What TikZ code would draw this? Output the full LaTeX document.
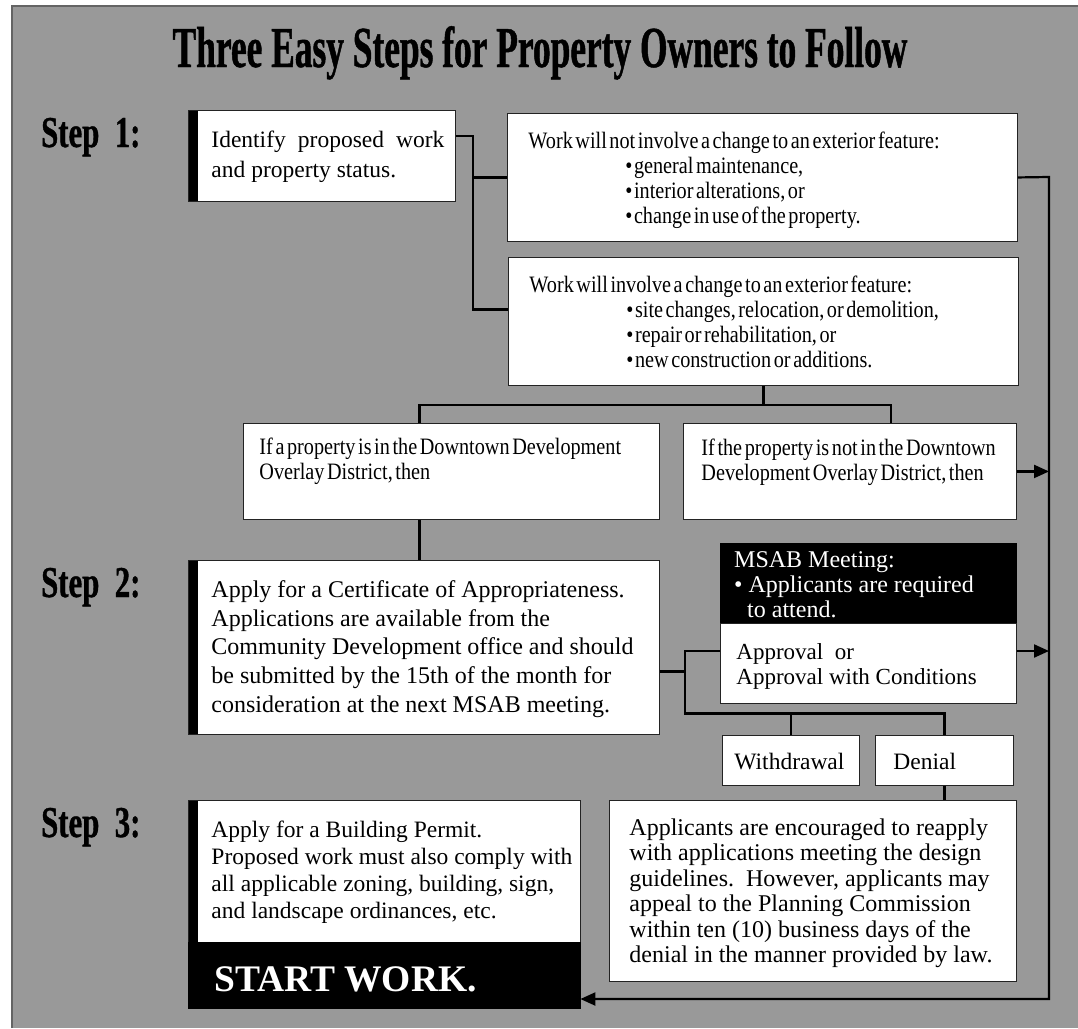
\documentclass[tikz,border=0pt]{standalone}
\usepackage{fontspec}
\setmainfont{Liberation Serif}
\newfontfamily\condfont{Liberation Serif}[FakeStretch=0.86]
\newfontfamily\titlefont{Liberation Serif}[FakeStretch=0.61, FakeBold=0.8]
\newfontfamily\stepfont{Liberation Serif}[FakeStretch=0.70, FakeBold=0.8]
\usetikzlibrary{arrows.meta}

\definecolor{bggray}{RGB}{153,153,153}
\definecolor{framegray}{RGB}{100,100,100}
\definecolor{boxline}{RGB}{35,35,35}

\tikzset{
  box/.style={draw=boxline, fill=white, line width=0.9pt, anchor=north west, inner ysep=0pt, align=flush left, font={\fontsize{23.5}{28.7}\selectfont}},
  condbox/.style={box, font={\condfont\fontsize{23.5}{25}\selectfont\spaceskip=2.6pt plus 1pt\relax}},
  barbox/.style={box, path picture={\fill[black] (path picture bounding box.north west) rectangle ([xshift=10pt]path picture bounding box.south west);}},
  blackbox/.style={draw=black, fill=black, text=white, anchor=north west, inner ysep=0pt, align=flush left},
  steplabel/.style={anchor=base west, inner sep=0pt, font={\stepfont\bfseries\fontsize{44}{44}\selectfont}},
  conn/.style={line width=2.2pt},
  arr/.style={conn, -{Triangle[length=15pt,width=13pt]}}
}

\begin{document}
\begin{tikzpicture}[x=1pt, y=-1pt]
  \useasboundingbox (0,0) rectangle (1078,1028);
  % gray panel
  \fill[bggray] (12,6) rectangle (1078,1028);
  \draw[framegray, line width=1.2pt] (12,1028) -- (12,6) -- (1078,6);

  % heading and step labels
  \node[anchor=base, font={\titlefont\bfseries\fontsize{58}{58}\selectfont}] (title) at (540,67) {Three Easy Steps for Property Owners to Follow};
  \node[steplabel] (step1) at (41,147) {Step\ \ 1:};
  \node[steplabel] (step2) at (41,597) {Step\ \ 2:};
  \node[steplabel] (step3) at (41,837) {Step\ \ 3:};

  % step 1
  \node[barbox, inner xsep=23pt, text width=221pt, text height=37pt, text depth=54pt, font={\fontsize{23.5}{30}\selectfont}] (ident) at (188,110)
    {\makebox[233pt][s]{Identify proposed work}\\\mbox{and property status.}};
  \node[condbox, inner xsep=21pt, text width=468pt, text height=35pt, text depth=93pt] (nochange) at (507,113)
    {Work will not involve a change to an exterior feature:\\
     \hspace*{97pt}\textbullet\hspace{1.5pt}general maintenance,\\
     \hspace*{97pt}\textbullet\hspace{1.5pt}interior alterations, or\\
     \hspace*{97pt}\textbullet\hspace{1.5pt}change in use of the property.};
  \node[condbox, inner xsep=21pt, text width=468pt, text height=35pt, text depth=93pt] (change) at (508,257)
    {Work will involve a change to an exterior feature:\\
     \hspace*{97pt}\textbullet\hspace{1.5pt}site changes, relocation, or demolition,\\
     \hspace*{97pt}\textbullet\hspace{1.5pt}repair or rehabilitation, or\\
     \hspace*{97pt}\textbullet\hspace{1.5pt}new construction or additions.};
  \node[condbox, inner xsep=16pt, text width=384pt, text height=31pt, text depth=65pt] (inodd) at (243,423)
    {\mbox{If a property is in the Downtown Development}\\Overlay District, then};
  \node[condbox, inner xsep=18pt, text width=297pt, text height=32pt, text depth=64pt] (notodd) at (683,423)
    {\mbox{If the property is not in the Downtown}\\\mbox{Development Overlay District, then}};

  % step 2
  \node[barbox, inner xsep=23pt, text width=425pt, text height=37pt, text depth=137pt, font={\fontsize{24}{28.7}\selectfont}] (coa) at (188,560)
    {\mbox{Apply for a Certificate of Appropriateness.}\\
     \mbox{Applications are available from the}\\
     \mbox{Community Development office and should}\\
     \mbox{be submitted by the 15th of the month for}\\
     \mbox{consideration at the next MSAB meeting.}};
  \node[blackbox, inner xsep=14pt, text width=268pt, text height=24pt, text depth=56pt, font={\fontsize{24}{25}\selectfont}] (msab) at (720,543)
    {MSAB Meeting:\\\textbullet\ Applicants are required\\\hspace*{13pt}to attend.};
  \node[box, inner xsep=16pt, text width=264pt, text height=36pt, text depth=44pt, font={\fontsize{23}{25}\selectfont}] (appr) at (720,623)
    {Approval\ \ or\\\mbox{Approval with Conditions}};
  \node[box, inner xsep=12pt, text width=113pt, text height=34pt, text depth=16pt] (withdr) at (722,735) {\mbox{Withdrawal}};
  \node[box, inner xsep=18pt, text width=102pt, text height=34pt, text depth=16pt] (denial) at (875,735) {Denial};
  \node[box, inner xsep=20pt, text width=367pt, text height=35pt, text depth=146pt, font={\fontsize{24}{25.4}\selectfont}] (reapply) at (609,800)
    {\mbox{Applicants are encouraged to reapply}\\
     \mbox{with applications meeting the design}\\
     \mbox{guidelines.\ \ However, applicants may}\\
     \mbox{appeal to the Planning Commission}\\
     \mbox{within ten (10) business days of the}\\
     \mbox{denial in the manner provided by law.}};

  % step 3
  \node[barbox, inner xsep=23pt, text width=346pt, text height=37pt, text depth=105pt, font={\fontsize{23.5}{27}\selectfont}] (permit) at (188,800)
    {\mbox{Apply for a Building Permit.}\\
     \mbox{Proposed work must also comply with}\\
     \mbox{all applicable zoning, building, sign,}\\
     \mbox{and landscape ordinances, etc.}};
  \node[blackbox, inner xsep=26pt, text width=340pt, text height=49pt, text depth=17pt, font={\bfseries\fontsize{37.5}{37.5}\selectfont}] (startwork) at (188,942) {START WORK.};

  % connectors
  \draw[conn] ([yshift=20pt]ident.east) -- ++(17,0) coordinate (split1) |- ([yshift=12pt]change.west);
  \draw[conn] (split1 |- nochange.west) -- (nochange.west);

  \coordinate (bustop) at (1049,177);
  \coordinate (busbot) at (1049,999);
  \draw[arr] (nochange.east) -- (bustop) -- (busbot) -- (busbot -| startwork.east);

  \draw[conn] (change.south) -- ++(0,19) coordinate (split2);
  \draw[conn] ([xshift=-32pt]inodd.north) |- (split2) -| ([xshift=41pt]notodd.north);
  \draw[conn] ([xshift=-32pt]inodd.south) coordinate (drop) -- (drop |- coa.north);
  \draw[arr] (notodd.east) -- (notodd.east -| bustop);

  \draw[conn] ([yshift=-24pt]coa.east) -- ++(25,0) coordinate (split4);
  \path (split4) ++(0,42) coordinate (split5);
  \draw[conn] ([yshift=-28pt]appr.north west) -| (split5) -| (denial.north);
  \draw[conn] (withdr.north) -- (withdr.north |- split5);
  \draw[arr] ([yshift=-28pt]appr.north east) coordinate (approut) -- (approut -| bustop);
  \draw[conn] (denial.south) -- (denial.south |- reapply.north);
\end{tikzpicture}
\end{document}
